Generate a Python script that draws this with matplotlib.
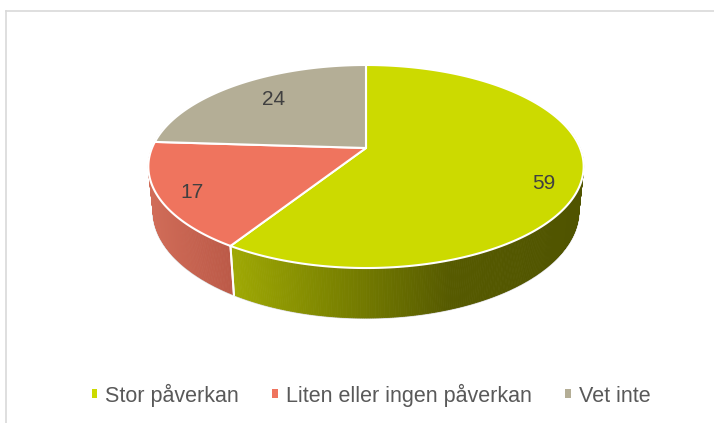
import numpy as np
import matplotlib
matplotlib.use("Agg")
import matplotlib.pyplot as plt
from matplotlib.patches import Polygon, Rectangle
from matplotlib.lines import Line2D

categories = ["Stor påverkan", "Liten eller ingen påverkan", "Vet inte"]
values = [59, 17, 24]
labels = ["59", "17", "24"]

top_colors = ["#CCDA00", "#EF745E", "#B4AE96"]
# side gradient stops (screen-x fraction across pie, colour)
side_stops = [
    [(0.18, (160, 170, 4)), (0.42, (125, 133, 0)), (0.70, (86, 90, 0)), (1.0, (80, 84, 0))],
    [(0.0, (208, 108, 88)), (0.20, (186, 88, 70)), (1.0, (186, 88, 70))],
    [(0.0, (150, 145, 125)), (1.0, (150, 145, 125))],
]
# label placement style (radius fraction, vertical nudge in px)
label_r = [0.83, 0.85, 0.69]
label_dy = [12, 4, -3]

W, H = 714, 423
fig = plt.figure(figsize=(W / 100, H / 100), dpi=100)
ax = fig.add_axes([0, 0, 1, 1])
ax.set_xlim(0, W)
ax.set_ylim(H, 0)
ax.axis("off")

# perspective projection of the 3D disc
CX, CY = 366.0, 148.0
F = 1042.8
D = 4.873
se, ce = 0.4586, 0.8886
DEPTH = 0.2346


def proj(theta_deg, r=1.0, y=0.0):
    t = np.radians(theta_deg)
    X = r * np.cos(t)
    Z = r * np.sin(t)
    dist = D + Z * ce - y * se
    xs = F * X / dist
    ys = F * (Z * se + y * ce) / dist
    return CX + xs, CY - ys


def lerp_color(stops, f):
    f = min(max(f, 0.0), 1.0)
    for (f0, c0), (f1, c1) in zip(stops[:-1], stops[1:]):
        if f0 <= f <= f1:
            u = 0 if f1 == f0 else (f - f0) / (f1 - f0)
            return tuple((a + (b - a) * u) / 255 for a, b in zip(c0, c1))
    if f < stops[0][0]:
        return tuple(c / 255 for c in stops[0][1])
    return tuple(c / 255 for c in stops[-1][1])


# slice angles: start at 12 o'clock, clockwise
total = float(sum(values))
starts, ends = [], []
a = 90.0
for v in values:
    starts.append(a)
    a -= 360.0 * v / total
    ends.append(a)

xmin, _ = proj(180)
xmax, _ = proj(0)

VIS_LO, VIS_HI = -192.0, 12.0

# faint outline underneath the solid (only the outer part stays visible)
thb = np.linspace(VIS_LO, VIS_HI, 300)
pb = np.array([proj(t, y=-DEPTH) for t in thb])
ax.plot(pb[:, 0], pb[:, 1], color="#D6D6D6", lw=1.6, zorder=0.5)
for tb in (VIS_LO + 8, VIS_HI - 8):
    x0, y0 = proj(tb)
    x1, y1 = proj(tb, y=-DEPTH)

# side faces (front part of the cylinder)
for i in range(len(values)):
    s, e = ends[i], starts[i]
    segs = []
    for off in (-360, 0, 360):
        lo, hi = max(s + off, VIS_LO), min(e + off, VIS_HI)
        if hi > lo:
            segs.append((lo, hi))
    for lo, hi in segs:
        n = max(int((hi - lo) * 2), 2)
        th = np.linspace(lo, hi, n + 1)
        for k in range(n):
            t0, t1 = th[k], th[k + 1]
            p = [proj(t0), proj(t1), proj(t1, y=-DEPTH), proj(t0, y=-DEPTH)]
            xm = 0.5 * (p[0][0] + p[1][0])
            f = (xm - xmin) / (xmax - xmin)
            c = lerp_color(side_stops[i], f)
            ax.add_patch(Polygon(p, closed=True, facecolor=c, edgecolor=c,
                                 linewidth=0.6, zorder=1))
        for tb in (lo, hi):
            if -180 < tb < 0:
                x0, y0 = proj(tb)
                x1, y1 = proj(tb, y=-DEPTH)
                ax.add_line(Line2D([x0, x1], [y0, y1], color="white", lw=1.4, zorder=1.5))

# top faces
for i in range(len(values)):
    th = np.linspace(starts[i], ends[i], 200)
    pts = [proj(0, r=0.0)] + [proj(t) for t in th]
    ax.add_patch(Polygon(pts, closed=True, facecolor=top_colors[i],
                         edgecolor="white", linewidth=1.5, joinstyle="round", zorder=2))

# data labels
for i in range(len(values)):
    mid = 0.5 * (starts[i] + ends[i])
    lx, ly = proj(mid, r=label_r[i])
    ax.text(lx, ly + label_dy[i], labels[i], ha="center", va="center", fontsize=15,
            color="#404040", family=["Liberation Sans", "DejaVu Sans"], zorder=3)

# chart border (top and left)
ax.add_line(Line2D([6, W], [11, 11], color="#D9D9D9", lw=1.2))
ax.add_line(Line2D([6, 6], [11, H], color="#D9D9D9", lw=1.2))

# legend
handles = [Rectangle((0, 0), 1, 1, facecolor=c, edgecolor="none") for c in top_colors]
leg = fig.legend(handles, categories, loc="center", bbox_to_anchor=(371 / W, 1 - 395 / H),
                 ncol=3, frameon=False, handlelength=0.25, handleheight=0.25,
                 handletextpad=0.38, columnspacing=1.55, borderpad=0, borderaxespad=0,
                 prop={"family": ["Liberation Sans", "DejaVu Sans"], "size": 15.5})
for t in leg.get_texts():
    t.set_color("#595959")

fig.savefig("out.png", dpi=100)
